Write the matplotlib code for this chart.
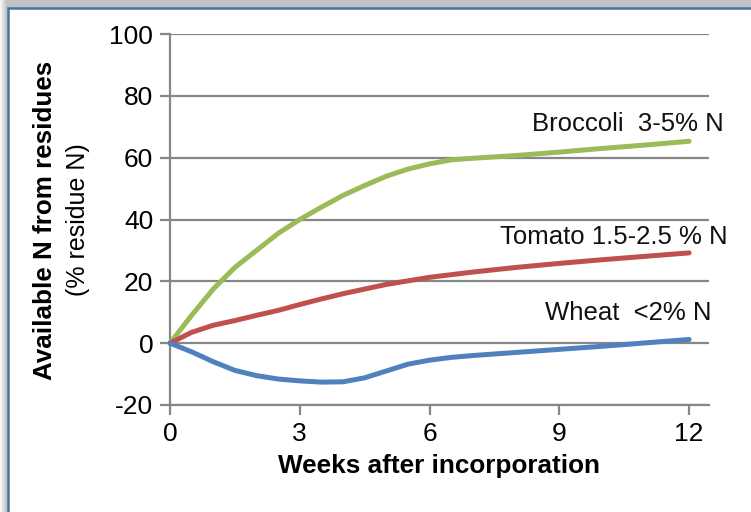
import numpy as np
import matplotlib.pyplot as plt
from matplotlib.patches import Rectangle

plt.rcParams['font.family'] = ['Liberation Sans', 'DejaVu Sans']
plt.rcParams['axes.unicode_minus'] = False

# weeks after incorporation and available N (% residue N)
weeks_broccoli = [0, 0.5, 1, 1.5, 2, 2.5, 3, 3.5, 4, 4.5, 5, 5.5, 6, 6.5, 7, 8, 9, 10, 11, 12]
broccoli = [0, 9, 17.5, 24.5, 30, 35.5, 40, 44, 47.8, 51, 54, 56.3, 58, 59.3, 59.8, 60.7, 61.8, 63, 64.1, 65.3]

weeks_tomato = [0, 0.5, 1, 1.5, 2, 2.5, 3, 3.5, 4, 5, 6, 7, 8, 9, 10, 11, 12]
tomato = [0, 3.5, 5.8, 7.3, 9, 10.6, 12.5, 14.3, 16, 19, 21.3, 23, 24.5, 25.8, 27, 28.1, 29.2]

weeks_wheat = [0, 0.5, 1, 1.5, 2, 2.5, 3, 3.5, 4, 4.5, 5, 5.5, 6, 6.5, 7, 8, 9, 10, 11, 12]
wheat = [0, -2.8, -6, -8.8, -10.5, -11.6, -12.2, -12.6, -12.5, -11.2, -9, -6.8, -5.5, -4.6, -4, -3, -2, -1, 0.1, 1.2]

labels = ['Broccoli  3-5% N', 'Tomato 1.5-2.5 % N', 'Wheat  <2% N']
label_x = [8.37, 7.63, 8.67]
label_y = [70.8, 34.3, 9.7]
colors = ['#9BBB59', '#C0504D', '#4F81BD']

fig = plt.figure(figsize=(7.51, 5.12), dpi=100)

# shadowed blue frame round the chart
for i in range(7):
    g = 0.97 - 0.035 * i
    fig.patches.append(Rectangle((i / 751, -0.1), 1.2, 1.1 - i / 512 + 0.1, transform=fig.transFigure,
                                 facecolor=(g, g, g), edgecolor='none', zorder=-3))
fig.patches.append(Rectangle((8 / 751, -0.1), 1.2, 1.1 - 8 / 512, transform=fig.transFigure,
                             facecolor='white', edgecolor='#4A72A8', linewidth=1.8, zorder=-2))

ax = fig.add_axes([170 / 751, 1 - 405 / 512, 539 / 751, 371 / 512])
ax.set_facecolor('none')

grid_c = '#878787'
for s in ['top', 'right']:
    ax.spines[s].set_visible(False)
for s in ['left', 'bottom']:
    ax.spines[s].set_color(grid_c)
    ax.spines[s].set_linewidth(1.6)

ax.set_xlim(0, 12.46)
ax.set_ylim(-20, 100)
ax.set_xticks([0, 3, 6, 9, 12])
ax.set_yticks(np.arange(-20, 101, 20))
ax.yaxis.grid(True, color=grid_c, linewidth=1.6)
ax.set_axisbelow(True)
ax.tick_params(axis='both', direction='out', length=7, width=1.6, color=grid_c,
               labelsize=19, pad=5)

series = [(weeks_broccoli, broccoli), (weeks_tomato, tomato), (weeks_wheat, wheat)]
for (x, y), c in zip(series, colors):
    ax.plot(x, y, color=c, linewidth=3.6, solid_capstyle='round', solid_joinstyle='round',
            clip_on=False, zorder=3)

for t, x, y in zip(labels, label_x, label_y):
    ax.text(x, y, t, fontsize=18.5, ha='left', va='center', color='#111111')

ax.set_xlabel('Weeks after incorporation', fontsize=18.8, fontweight='bold', labelpad=6)
fig.text(45 / 751, 1 - 220 / 512, 'Available N from residues', rotation=90, fontsize=18.7,
         fontweight='bold', ha='center', va='center')
fig.text(78 / 751, 1 - 220 / 512, '(% residue N)', rotation=90, fontsize=18,
         ha='center', va='center')

fig.savefig('out.png', dpi=100)
